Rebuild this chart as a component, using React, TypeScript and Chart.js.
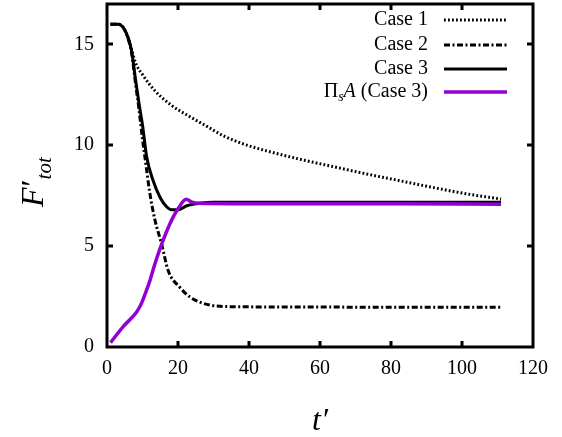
import React, { useEffect, useRef } from "react";
import { Chart, registerables } from "chart.js";

Chart.register(...registerables);

// ---- Data ----
const case1T = [1, 3, 4.5, 6, 7, 8, 10, 13.5, 18, 23, 27.5, 33, 40, 45, 54, 64, 73, 82.5, 92, 101, 111];
const case1F = [16.0, 16.0, 15.85, 15.3, 14.7, 14.1, 13.5, 12.7, 12.0, 11.45, 11.0, 10.45, 9.97, 9.72, 9.32, 8.93, 8.58, 8.24, 7.9, 7.6, 7.33];

const case2T = [1, 3, 4.5, 6, 7, 8, 9, 10, 11, 12, 13.5, 15.4, 17.2, 20.5, 23.4, 27, 31, 40, 60, 80, 111];
const case2F = [16.0, 16.0, 15.85, 15.25, 14.5, 13.1, 11.8, 10.3, 9.0, 7.7, 6.3, 5.1, 3.8, 2.96, 2.47, 2.17, 2.03, 1.99, 1.98, 1.97, 1.97];

const case3T = [1, 3, 4.5, 6, 7, 8, 9, 10, 11.2, 13, 15, 16.8, 18.2, 20, 22.5, 26, 30, 50, 80, 111];
const case3F = [16.0, 16.0, 15.85, 15.3, 14.6, 13.3, 12.1, 11.0, 9.4, 8.24, 7.4, 6.95, 6.8, 6.8, 7.0, 7.12, 7.18, 7.18, 7.18, 7.18];

const piT = [1, 4.5, 8.4, 9.8, 11, 12.1, 13.2, 14.2, 15.4, 17.7, 20, 22.3, 23.9, 26, 40, 80, 111];
const piF = [0.22, 1.0, 1.75, 2.2, 2.75, 3.3, 3.95, 4.5, 5.1, 6.1, 6.85, 7.32, 7.18, 7.12, 7.1, 7.1, 7.08];

const xTicks = [0, 20, 40, 60, 80, 100, 120];
const yTicks = [0, 5, 10, 15];

const legendLabels = ["Case 1", "Case 2", "Case 3"];

const PURPLE = "#9400d3";
const SERIF = "'Liberation Serif', 'DejaVu Serif', serif";

const zip = (t: number[], f: number[]) => t.map((x, i) => ({ x, y: f[i] }));

const framePlugin = {
  id: "frame",
  afterDraw(chart: any) {
    const { ctx, chartArea } = chart;
    const { left, right, top, bottom } = chartArea;
    const xs = chart.scales.x;
    const ys = chart.scales.y;
    ctx.save();
    ctx.strokeStyle = "#000";
    ctx.lineWidth = 3;
    ctx.lineCap = "butt";
    // inward ticks
    const tl = 6;
    ctx.beginPath();
    xTicks.forEach((v) => {
      const px = Math.round(xs.getPixelForValue(v));
      if (px <= left + 2 || px >= right - 2) return;
      ctx.moveTo(px, bottom);
      ctx.lineTo(px, bottom - tl);
      ctx.moveTo(px, top);
      ctx.lineTo(px, top + tl);
    });
    yTicks.forEach((v) => {
      const py = Math.round(ys.getPixelForValue(v));
      if (py <= top + 2 || py >= bottom - 2) return;
      ctx.moveTo(left, py);
      ctx.lineTo(left + tl, py);
      ctx.moveTo(right, py);
      ctx.lineTo(right - tl, py);
    });
    ctx.stroke();
    ctx.strokeRect(left, top, right - left, bottom - top);

    // axis titles
    ctx.fillStyle = "#000";
    ctx.textBaseline = "alphabetic";
    // x title t'
    ctx.font = `italic 32px ${SERIF}`;
    ctx.textAlign = "center";
    ctx.fillText("t\u2032", 320, 430);

    // y title F'_tot
    ctx.save();
    ctx.translate(43, 207);
    ctx.rotate(-Math.PI / 2);
    ctx.textAlign = "left";
    ctx.font = `italic 32px ${SERIF}`;
    ctx.fillText("F", 0, 0);
    const fw = ctx.measureText("F").width;
    ctx.fillText("\u2032", fw - 1, 0);
    ctx.font = `italic 21px ${SERIF}`;
    ctx.fillText("tot", fw + 8, 8);
    ctx.restore();

    // legend
    const textRight = 428;
    const x0 = 444;
    const x1 = 507;
    const rows = [20, 45, 69, 92];
    const styles = [
      { color: "#000", dash: [1.8, 2.2], w: 3 },
      { color: "#000", dash: [6, 2.5, 2, 2.5], w: 3 },
      { color: "#000", dash: [], w: 3 },
      { color: PURPLE, dash: [], w: 3.5 },
    ];
    ctx.textBaseline = "middle";
    ctx.font = `20px ${SERIF}`;
    ctx.textAlign = "right";
    legendLabels.forEach((lab, i) => {
      ctx.fillText(lab, textRight, rows[i]);
    });
    // Pi_s A (Case 3)
    {
      const y = rows[3];
      const parts = [
        { t: "\u03A0", f: `20px ${SERIF}`, dy: 0 },
        { t: "s", f: `italic 14px ${SERIF}`, dy: 5 },
        { t: "A", f: `italic 20px ${SERIF}`, dy: 0 },
        { t: " (Case 3)", f: `20px ${SERIF}`, dy: 0 },
      ];
      let total = 0;
      const widths = parts.map((p) => {
        ctx.font = p.f;
        const w = ctx.measureText(p.t).width;
        total += w;
        return w;
      });
      let x = textRight - total;
      ctx.textAlign = "left";
      parts.forEach((p, i) => {
        ctx.font = p.f;
        ctx.fillText(p.t, x, y + p.dy);
        x += widths[i];
      });
    }
    styles.forEach((s, i) => {
      ctx.beginPath();
      ctx.setLineDash(s.dash);
      ctx.strokeStyle = s.color;
      ctx.lineWidth = s.w;
      ctx.moveTo(x0, rows[i]);
      ctx.lineTo(x1, rows[i]);
      ctx.stroke();
    });
    ctx.setLineDash([]);
    ctx.restore();
  },
};

export default function App() {
  const ref = useRef<HTMLCanvasElement | null>(null);

  useEffect(() => {
    if (!ref.current) return;
    const chart = new Chart(ref.current, {
      type: "line",
      data: {
        datasets: [
          {
            label: "\u03A0sA (Case 3)",
            data: zip(piT, piF),
            borderColor: PURPLE,
            borderWidth: 3.5,
            pointRadius: 0,
            cubicInterpolationMode: "monotone",
            order: 0,
          },
          {
            label: "Case 3",
            data: zip(case3T, case3F),
            borderColor: "#000",
            borderWidth: 3,
            pointRadius: 0,
            cubicInterpolationMode: "monotone",
            order: 1,
          },
          {
            label: "Case 2",
            data: zip(case2T, case2F),
            borderColor: "#000",
            borderWidth: 3,
            borderDash: [6, 2.5, 2, 2.5],
            pointRadius: 0,
            cubicInterpolationMode: "monotone",
            order: 2,
          },
          {
            label: "Case 1",
            data: zip(case1T, case1F),
            borderColor: "#000",
            borderWidth: 3,
            borderDash: [1.8, 2.2],
            pointRadius: 0,
            cubicInterpolationMode: "monotone",
            order: 3,
          },
        ],
      },
      options: {
        responsive: false,
        animation: false,
        layout: { padding: { left: 0, right: 29, top: 4, bottom: 0 } },
        plugins: { legend: { display: false }, tooltip: { enabled: false } },
        scales: {
          x: {
            type: "linear",
            min: 0,
            max: 120,
            grid: { display: false, drawTicks: false },
            border: { display: false },
            afterBuildTicks: (s: any) => {
              s.ticks = xTicks.map((v) => ({ value: v }));
            },
            afterFit: (s: any) => {
              s.height = 90;
              s.paddingLeft = 0;
              s.paddingRight = 0;
            },
            ticks: {
              padding: 10,
              color: "#000",
              maxRotation: 0,
              font: { family: SERIF, size: 20 },
            },
          },
          y: {
            type: "linear",
            min: 0,
            max: 17,
            grid: { display: false, drawTicks: false },
            border: { display: false },
            afterBuildTicks: (s: any) => {
              s.ticks = yTicks.map((v) => ({ value: v }));
            },
            afterFit: (s: any) => {
              s.width = 107;
              s.paddingTop = 0;
              s.paddingBottom = 0;
            },
            ticks: {
              padding: 13,
              color: "#000",
              font: { family: SERIF, size: 20 },
            },
          },
        },
      } as any,
      plugins: [framePlugin],
    });
    return () => chart.destroy();
  }, []);

  return (
    <div style={{ position: "fixed", left: 0, top: 0, width: 562, height: 437, background: "#fff" }}>
      <canvas ref={ref} width={562} height={437} style={{ display: "block", width: 562, height: 437 }} />
    </div>
  );
}
